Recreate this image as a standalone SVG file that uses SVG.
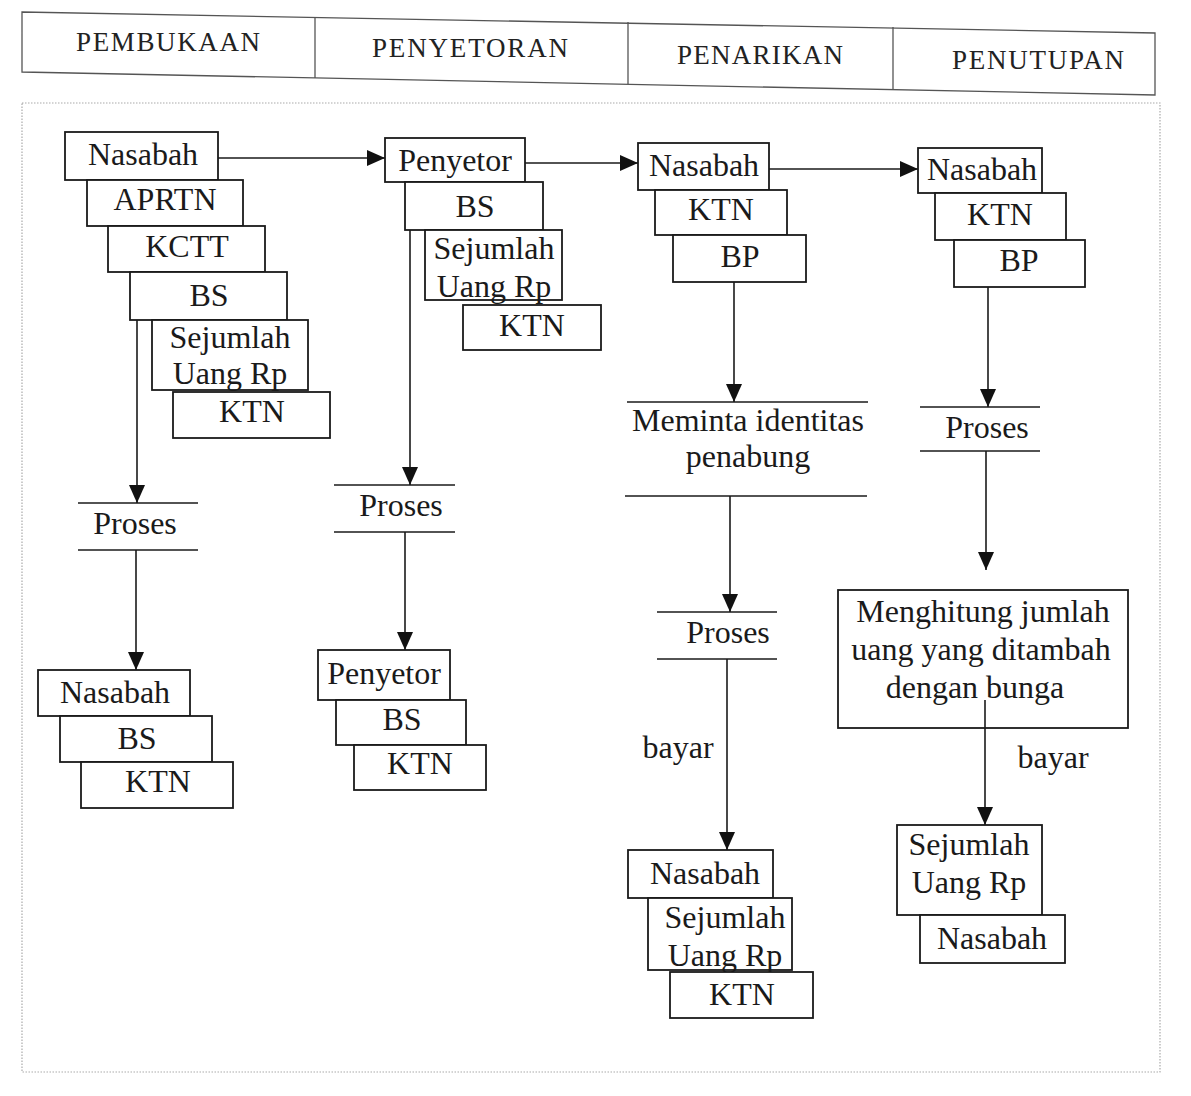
<svg xmlns="http://www.w3.org/2000/svg" width="1191" height="1096" viewBox="0 0 1191 1096">
<style>
.bg{fill:#ffffff}
.frame{fill:none;stroke:#aaaaaa;stroke-width:1.2;stroke-dasharray:1.5 1.5}
.hd{fill:none;stroke:#555555;stroke-width:1.3}
.ht{font-family:"Liberation Serif",serif;font-size:27px;fill:#222222;text-anchor:middle}
.box rect{fill:#ffffff;stroke:#1a1a1a;stroke-width:1.8}
.t{font-family:"Liberation Serif",serif;font-size:32px;fill:#1a1a1a;text-anchor:middle}
.bar{stroke:#1a1a1a;stroke-width:1.6}
.conn line,.conn path{stroke:#1a1a1a;stroke-width:1.6;fill:none}
</style>
<defs>
<marker id="ah" viewBox="0 0 18 16" refX="18" refY="8" markerWidth="18" markerHeight="16" markerUnits="userSpaceOnUse" orient="auto">
<path d="M0,0 L18,8 L0,16 Z" fill="#111111"/>
</marker>
</defs>
<rect class="bg" x="0" y="0" width="1191" height="1096"/>

<g id="header">
<path class="hd" d="M22,12 L1155,33 L1155,95 L22,72 Z"/>
<line class="hd" x1="315" y1="17" x2="315" y2="78"/>
<line class="hd" x1="628" y1="22" x2="628" y2="84"/>
<line class="hd" x1="893" y1="27" x2="893" y2="89"/>
<text class="ht" x="168" y="51" textLength="184" lengthAdjust="spacing">PEMBUKAAN</text>
<text class="ht" x="470" y="57" textLength="196" lengthAdjust="spacing">PENYETORAN</text>
<text class="ht" x="760" y="64" textLength="166" lengthAdjust="spacing">PENARIKAN</text>
<text class="ht" x="1038" y="69" textLength="172" lengthAdjust="spacing">PENUTUPAN</text>
</g>

<rect id="frame" class="frame" x="22" y="103" width="1138" height="969"/>

<g id="connectors" class="conn">
<line x1="218" y1="158" x2="385" y2="158" marker-end="url(#ah)"/>
<line x1="525" y1="163" x2="638" y2="163" marker-end="url(#ah)"/>
<line x1="769" y1="169" x2="918" y2="169" marker-end="url(#ah)"/>
<line x1="137" y1="320" x2="137" y2="503" marker-end="url(#ah)"/>
<line x1="136" y1="550" x2="136" y2="670" marker-end="url(#ah)"/>
<line x1="410" y1="230" x2="410" y2="485" marker-end="url(#ah)"/>
<line x1="405" y1="532" x2="405" y2="650" marker-end="url(#ah)"/>
<line x1="734" y1="282" x2="734" y2="402" marker-end="url(#ah)"/>
<line x1="730" y1="496" x2="730" y2="612" marker-end="url(#ah)"/>
<line x1="727" y1="659" x2="727" y2="850" marker-end="url(#ah)"/>
<line x1="988" y1="287" x2="988" y2="407" marker-end="url(#ah)"/>
<line x1="986" y1="451" x2="986" y2="570" marker-end="url(#ah)"/>
<line x1="985" y1="700" x2="985" y2="825" marker-end="url(#ah)"/>
</g>

<g id="col1-input" class="box">
<rect x="65" y="132" width="153" height="48"/>
<text class="t" x="143" y="165">Nasabah</text>
<rect x="87" y="180" width="156" height="46"/>
<text class="t" x="165" y="210">APRTN</text>
<rect x="108" y="226" width="157" height="46"/>
<text class="t" x="187" y="257">KCTT</text>
<rect x="130" y="272" width="157" height="48"/>
<text class="t" x="209" y="306">BS</text>
<rect x="152" y="320" width="156" height="70"/>
<text class="t" x="230" y="348">Sejumlah</text>
<text class="t" x="230" y="384">Uang Rp</text>
<rect x="173" y="392" width="157" height="46"/>
<text class="t" x="252" y="422">KTN</text>
</g>

<g id="col1-proses">
<line class="bar" x1="78" y1="503" x2="198" y2="503"/>
<text class="t" x="135" y="534">Proses</text>
<line class="bar" x1="78" y1="550" x2="198" y2="550"/>
</g>

<g id="col1-output" class="box">
<rect x="38" y="670" width="152" height="46"/>
<text class="t" x="115" y="703">Nasabah</text>
<rect x="60" y="716" width="152" height="46"/>
<text class="t" x="137" y="749">BS</text>
<rect x="81" y="762" width="152" height="46"/>
<text class="t" x="158" y="792">KTN</text>
</g>

<g id="col2-input" class="box">
<rect x="385" y="138" width="140" height="44"/>
<text class="t" x="455" y="171">Penyetor</text>
<rect x="405" y="182" width="138" height="48"/>
<text class="t" x="475" y="217">BS</text>
<rect x="425" y="230" width="137" height="70"/>
<text class="t" x="494" y="259">Sejumlah</text>
<text class="t" x="494" y="297">Uang Rp</text>
<rect x="463" y="305" width="138" height="45"/>
<text class="t" x="532" y="336">KTN</text>
</g>

<g id="col2-proses">
<line class="bar" x1="334" y1="485" x2="455" y2="485"/>
<text class="t" x="401" y="516">Proses</text>
<line class="bar" x1="334" y1="532" x2="455" y2="532"/>
</g>

<g id="col2-output" class="box">
<rect x="318" y="650" width="132" height="50"/>
<text class="t" x="384" y="684">Penyetor</text>
<rect x="336" y="700" width="130" height="45"/>
<text class="t" x="402" y="730">BS</text>
<rect x="354" y="745" width="132" height="45"/>
<text class="t" x="420" y="774">KTN</text>
</g>

<g id="col3-input" class="box">
<rect x="638" y="143" width="131" height="47"/>
<text class="t" x="704" y="176">Nasabah</text>
<rect x="655" y="190" width="132" height="45"/>
<text class="t" x="721" y="220">KTN</text>
<rect x="673" y="235" width="133" height="47"/>
<text class="t" x="740" y="267">BP</text>
</g>

<g id="col3-meminta">
<line class="bar" x1="627" y1="402" x2="868" y2="402"/>
<text class="t" x="748" y="431">Meminta identitas</text>
<text class="t" x="748" y="467">penabung</text>
<line class="bar" x1="625" y1="496" x2="867" y2="496"/>
</g>

<g id="col3-proses">
<line class="bar" x1="657" y1="612" x2="777" y2="612"/>
<text class="t" x="728" y="643">Proses</text>
<line class="bar" x1="657" y1="659" x2="777" y2="659"/>
</g>

<text id="col3-bayar" class="t" x="678" y="758">bayar</text>

<g id="col3-output" class="box">
<rect x="628" y="850" width="145" height="48"/>
<text class="t" x="705" y="884">Nasabah</text>
<rect x="648" y="898" width="144" height="72"/>
<text class="t" x="725" y="928">Sejumlah</text>
<text class="t" x="725" y="966">Uang Rp</text>
<rect x="670" y="972" width="143" height="46"/>
<text class="t" x="742" y="1005">KTN</text>
</g>

<g id="col4-input" class="box">
<rect x="918" y="148" width="124" height="45"/>
<text class="t" x="982" y="180">Nasabah</text>
<rect x="935" y="193" width="131" height="47"/>
<text class="t" x="1000" y="225">KTN</text>
<rect x="954" y="240" width="131" height="47"/>
<text class="t" x="1019" y="271">BP</text>
</g>

<g id="col4-proses">
<line class="bar" x1="920" y1="407" x2="1040" y2="407"/>
<text class="t" x="987" y="438">Proses</text>
<line class="bar" x1="920" y1="451" x2="1040" y2="451"/>
</g>

<g id="col4-menghitung" class="box">
<rect x="838" y="590" width="290" height="138" style="fill:none"/>
<text class="t" x="983" y="622">Menghitung jumlah</text>
<text class="t" x="981" y="660">uang yang ditambah</text>
<text class="t" x="975" y="698">dengan bunga</text>
</g>

<text id="col4-bayar" class="t" x="1053" y="768">bayar</text>

<g id="col4-output" class="box">
<rect x="897" y="825" width="145" height="90"/>
<text class="t" x="969" y="855">Sejumlah</text>
<text class="t" x="969" y="893">Uang Rp</text>
<rect x="920" y="915" width="145" height="48"/>
<text class="t" x="992" y="949">Nasabah</text>
</g>
</svg>
